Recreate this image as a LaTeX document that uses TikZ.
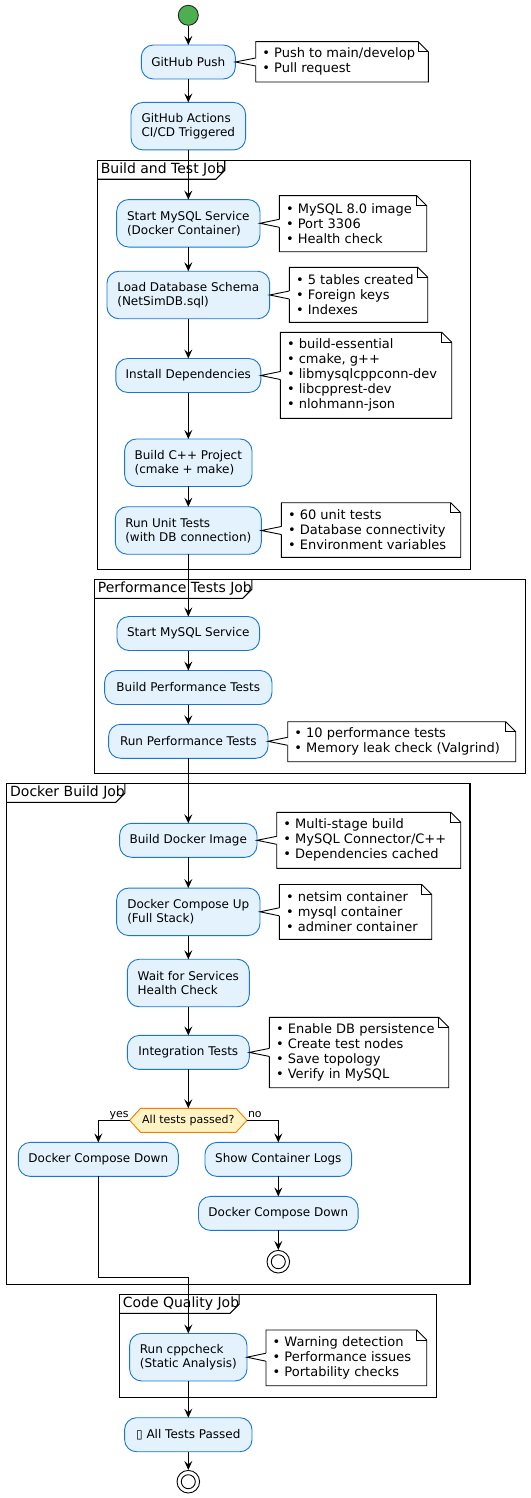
\documentclass[tikz,border=0pt]{standalone}
\usepackage{fontspec}
\setmainfont{DejaVu Sans}
\usetikzlibrary{arrows.meta,calc,fit}
\definecolor{actfill}{HTML}{E3F2FD}
\definecolor{actdraw}{HTML}{1976D2}
\definecolor{decfill}{HTML}{FFF3C4}
\definecolor{decdraw}{HTML}{F57C00}
\definecolor{startfill}{HTML}{4CAF50}
\tikzset{
  act/.style={draw=actdraw, fill=actfill, rounded corners=12pt, line width=0.9pt,
    inner sep=0pt, outer sep=0pt, align=left, font=\fontsize{12}{14}\selectfont, minimum height=34pt},
  acttwo/.style={act, minimum height=47.5pt},
  flow/.style={line width=1pt, -{Stealth[length=9pt,width=8pt,inset=3.5pt]}},
  plainline/.style={line width=1pt},
  frameline/.style={line width=1.1pt},
  ftitle/.style={font=\fontsize{14}{16}\selectfont, anchor=north west, inner xsep=0pt, inner ysep=0pt,
    text height=12pt, text depth=4pt, minimum height=19pt, outer sep=0pt},
  noteline/.style={line width=0.9pt},
  notetext/.style={font=\fontsize{13}{15}\selectfont, align=left, inner sep=0pt},
  lbl/.style={font=\fontsize{11}{13}\selectfont, inner sep=0pt},
  endcircle/.style={circle, draw, line width=0.9pt, minimum size=22.6pt, inner sep=0pt, fill=white},
}
\newcommand\jobframe[6]{%
  \draw[frameline] (#2,#3) rectangle (#4,#5);
  \node[ftitle] (#1) at (#2,#3) {\hspace{3.5pt}#6\hspace{8.5pt}};
  \draw[frameline] (#1.north east) -- ([yshift=9pt]#1.south east) -- ([xshift=-9pt]#1.south east) -- (#1.south west);
}
\newcommand\mknote[6]{%
  \coordinate (#1-a) at (#2,#3);
  \coordinate (#1-b) at (#4,#5);
  \node[fit=(#1-a)(#1-b), inner sep=0pt, outer sep=0pt] (#1) {};
  \draw[noteline, fill=white] (#1.north west) -- ([xshift=-10pt]#1.north east) -- ([yshift=-10pt]#1.north east)
     -- (#1.south east) -- (#1.south west) -- cycle;
  \draw[noteline] ([xshift=-10pt]#1.north east) |- ([yshift=-10pt]#1.north east);
  \node[notetext, anchor=west] (#1-t) at ([xshift=6.5pt]#1.west) {#6};
}
\newcommand\notelink[2]{%
  \fill[white] (#1.east) -- ($(#2.west |- #1.east)+(0,4pt)$) -- ($(#2.west |- #1.east)+(0.8pt,4pt)$)
     -- ($(#2.west |- #1.east)+(0.8pt,-4pt)$) -- ($(#2.west |- #1.east)+(0,-4pt)$) -- cycle;
  \draw[noteline] ($(#2.west |- #1.east)+(0,4pt)$) -- (#1.east) -- ($(#2.west |- #1.east)+(0,-4pt)$);
}
\begin{document}
\begin{tikzpicture}[x=1pt,y=-1pt]
\useasboundingbox (0,0) rectangle (530,1498);
\fill[white] (0,0) rectangle (530,1498);

% frames
\jobframe{f1}{97.3}{160.3}{470.3}{569.3}{Build and Test Job}
\jobframe{f2}{94.3}{579.3}{525.3}{773.3}{Performance Tests Job}
\jobframe{f3}{6.7}{783.3}{470}{1284.3}{Docker Build Job}
\jobframe{f4}{119.3}{1294.3}{436.7}{1397.3}{Code Quality Job}

% start
\node[circle, fill=startfill, draw=black!85, line width=0.9pt, minimum size=20pt, inner sep=0pt] (start) at (188.3,15.3) {};

% activities
\node[act, minimum width=94pt] (push) at (188.3,62) {GitHub Push};
\node[acttwo, minimum width=114.6pt] (actions) at (188.3,126.2) {GitHub Actions\\CI/CD Triggered};
\node[acttwo, minimum width=143.3pt] (mysqlA) at (188.3,223.3) {Start MySQL Service\\(Docker Container)};
\node[acttwo, minimum width=162.7pt] (schema) at (188.3,295) {Load Database Schema\\(NetSimDB.sql)};
\node[act, minimum width=145pt] (deps) at (188.3,375.5) {Install Dependencies};
\node[acttwo, minimum width=127.4pt] (build) at (188.3,462.7) {Build C++ Project\\(cmake + make)};
\node[acttwo, minimum width=146pt] (unit) at (188.3,530.5) {Run Unit Tests\\(with DB connection)};
\node[act, minimum width=142.6pt] (mysqlB) at (188.3,633.5) {Start MySQL Service};
\node[act, minimum width=167.4pt] (bperf) at (188.3,687.5) {Build Performance Tests};
\node[act, minimum width=159.4pt] (rperf) at (188.3,741.3) {Run Performance Tests};
\node[act, minimum width=137.4pt] (dimg) at (188.3,840.3) {Build Docker Image};
\node[acttwo, minimum width=143.3pt] (cup) at (188.3,911.8) {Docker Compose Up\\(Full Stack)};
\node[acttwo, minimum width=122pt] (wait) at (188.3,983) {Wait for Services\\Health Check};
\node[act, minimum width=122pt] (integ) at (188.3,1052.4) {Integration Tests};

% decision
\coordinate (decc) at (188.3,1120.3);
\draw[line width=0.9pt, draw=decdraw, fill=decfill]
  ($(decc)+(-58.7pt,0)$) -- ($(decc)+(-47.7pt,12pt)$) -- ($(decc)+(47.7pt,12pt)$) -- ($(decc)+(58.7pt,0)$)
  -- ($(decc)+(47.7pt,-12pt)$) -- ($(decc)+(-47.7pt,-12pt)$) -- cycle;
\node[minimum width=117.4pt, minimum height=24pt, inner sep=0pt, outer sep=0pt, font=\fontsize{11}{13}\selectfont] (dec) at (decc) {All tests passed?};

\node[act, minimum width=160pt] (down1) at (98.3,1159.4) {Docker Compose Down};
\node[act, minimum width=146.7pt] (logs) at (278.3,1159.4) {Show Container Logs};
\node[act, minimum width=159.6pt] (down2) at (278.3,1213.4) {Docker Compose Down};
\node[endcircle] (stop1) at (278.3,1261.7) {};
\draw[line width=0.9pt] (stop1.center) circle (7pt);

\node[acttwo, minimum width=117.4pt] (cpp) at (188.3,1357.2) {Run cppcheck\\(Static Analysis)};
\node[act, minimum width=127.4pt] (passed) at (188.3,1434.7) {▯ All Tests Passed};
\node[endcircle] (stop2) at (188.3,1481.7) {};
\draw[line width=0.9pt] (stop2.center) circle (7pt);

% notes
\mknote{n1}{255.7}{41.7}{428.3}{82}{• Push to main/develop\\• Pull request}
\mknote{n2}{279.3}{195.7}{426.7}{251.7}{• MySQL 8.0 image\\• Port 3306\\• Health check}
\mknote{n3}{289.3}{267.3}{427.7}{322.3}{• 5 tables created\\• Foreign keys\\• Indexes}
\mknote{n4}{280.3}{332.3}{451.7}{418.3}{• build-essential\\• cmake, g++\\• libmysqlcppconn-dev\\• libcpprest-dev\\• nlohmann-json}
\mknote{n5}{281.3}{502.7}{460.7}{557.3}{• 60 unit tests\\• Database connectivity\\• Environment variables}
\mknote{n6}{287.7}{721.7}{515.7}{761.7}{• 10 performance tests\\• Memory leak check (Valgrind)}
\mknote{n7}{276.7}{812.3}{460.7}{868.3}{• Multi-stage build\\• MySQL Connector/C++\\• Dependencies cached}
\mknote{n8}{279.3}{884.5}{431.7}{939.3}{• netsim container\\• mysql container\\• adminer container}
\mknote{n9}{269.3}{1017.3}{448.7}{1087.7}{• Enable DB persistence\\• Create test nodes\\• Save topology\\• Verify in MySQL}
\mknote{n10}{266}{1330}{426.7}{1385.7}{• Warning detection\\• Performance issues\\• Portability checks}

\notelink{push}{n1}
\notelink{mysqlA}{n2}
\notelink{schema}{n3}
\notelink{deps}{n4}
\notelink{unit}{n5}
\notelink{rperf}{n6}
\notelink{dimg}{n7}
\notelink{cup}{n8}
\notelink{integ}{n9}
\notelink{cpp}{n10}

% flows
\draw[flow] (start) -- (push);
\draw[flow] (push) -- (actions);
\draw[flow] (actions) -- (mysqlA);
\draw[flow] (mysqlA) -- (schema);
\draw[flow] (schema) -- (deps);
\draw[flow] (deps) -- (build);
\draw[flow] (build) -- (unit);
\draw[flow] (unit) -- (mysqlB);
\draw[flow] (mysqlB) -- (bperf);
\draw[flow] (bperf) -- (rperf);
\draw[flow] (rperf) -- (dimg);
\draw[flow] (dimg) -- (cup);
\draw[flow] (cup) -- (wait);
\draw[flow] (wait) -- (integ);
\draw[flow] (integ) -- (dec);
\draw[flow] (dec.west) node[lbl, anchor=base east, yshift=2.8pt, xshift=-0.5pt] {yes} -| (down1.north);
\draw[flow] (dec.east) node[lbl, anchor=base west, yshift=2.8pt, xshift=0.5pt] {no} -| (logs.north);
\draw[flow] (logs) -- (down2);
\draw[flow] (down2) -- (stop1);
\coordinate (merge) at (188.3,1277.3);
\draw[flow] (down1.south) |- (merge) -- (cpp.north);
\draw[flow] (cpp) -- (passed);
\draw[flow] (passed) -- (stop2);
\end{tikzpicture}
\end{document}
